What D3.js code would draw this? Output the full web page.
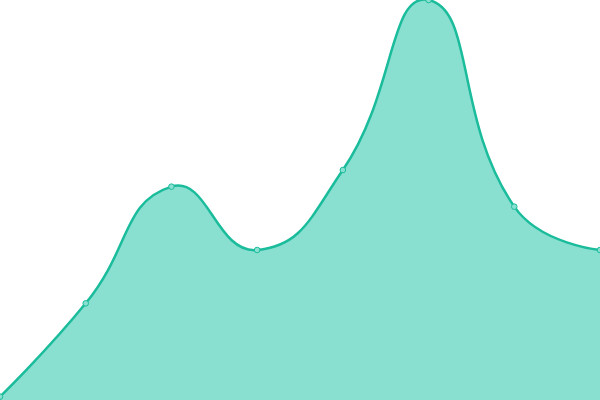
<!DOCTYPE html>
<html><head><meta charset="utf-8">
<script src="https://cdn.jsdelivr.net/npm/d3@7"></script>
<style>html,body{margin:0;padding:0;background:#fff;overflow:hidden}</style>
</head><body>
<svg id="chart" width="600" height="400"></svg>
<script>
const categories = ["A","B","C","D","E","F","G","H"];
const values = [2, 58, 128, 90, 138, 240, 116, 90];
const yDomain = [0, 240];

const W = 600, H = 400;
const svg = d3.select("#chart");
const x = d3.scalePoint().domain(categories).range([0, W]);
const y = d3.scaleLinear().domain(yDomain).range([H, 0]);

// ECharts-like smooth bezier curve (smooth = 0.5)
function SmoothCurve(context){ this._context = context; }
SmoothCurve.prototype = {
  areaStart(){ this._line = 0; },
  areaEnd(){ this._line = NaN; },
  lineStart(){ this._pts = []; },
  point(px, py){ this._pts.push([+px, +py]); },
  lineEnd(){
    const p = this._pts, n = p.length, c = this._context, s = 0.5;
    if (n) {
      if (this._line) c.lineTo(p[0][0], p[0][1]); else c.moveTo(p[0][0], p[0][1]);
      let cpx0 = p[0][0], cpy0 = p[0][1];
      for (let i = 1; i < n; i++) {
        const [px, py] = p[i];
        const [prevX, prevY] = p[i-1];
        let ncx, ncy, vx = 0, vy = 0, r = 0.5;
        if (i >= n - 1) { ncx = px; ncy = py; }
        else {
          const [nx, ny] = p[i+1];
          vx = nx - prevX; vy = ny - prevY;
          const l0 = Math.hypot(px - prevX, py - prevY);
          const l1 = Math.hypot(nx - px, ny - py);
          r = (l0 + l1) ? l1 / (l0 + l1) : 0.5;
          ncx = px - vx * s * (1 - r); ncy = py - vy * s * (1 - r);
        }
        c.bezierCurveTo(cpx0, cpy0, ncx, ncy, px, py);
        cpx0 = px + vx * s * r; cpy0 = py + vy * s * r;
      }
    }
    if (this._line || (this._line !== 0 && n === 1)) c.closePath();
    this._line = 1 - this._line;
  }
};
const smooth = ctx => new SmoothCurve(ctx);

const data = categories.map((c, i) => ({c, v: values[i]}));

svg.append("path")
  .datum(data)
  .attr("fill", "#8ae0d0")
  .attr("d", d3.area().curve(smooth).x(d => x(d.c)).y0(y(0)).y1(d => y(d.v)));

svg.append("path")
  .datum(data)
  .attr("fill", "none")
  .attr("stroke", "#1abc9c")
  .attr("stroke-width", 2.5)
  .attr("d", d3.line().curve(smooth).x(d => x(d.c)).y(d => y(d.v)));

svg.selectAll("circle").data(data).join("circle")
  .attr("cx", d => x(d.c))
  .attr("cy", d => y(d.v))
  .attr("r", 2.8)
  .attr("fill", "#8ae0d0")
  .attr("stroke", "#1abc9c")
  .attr("stroke-width", 1);
</script>
</body></html>
